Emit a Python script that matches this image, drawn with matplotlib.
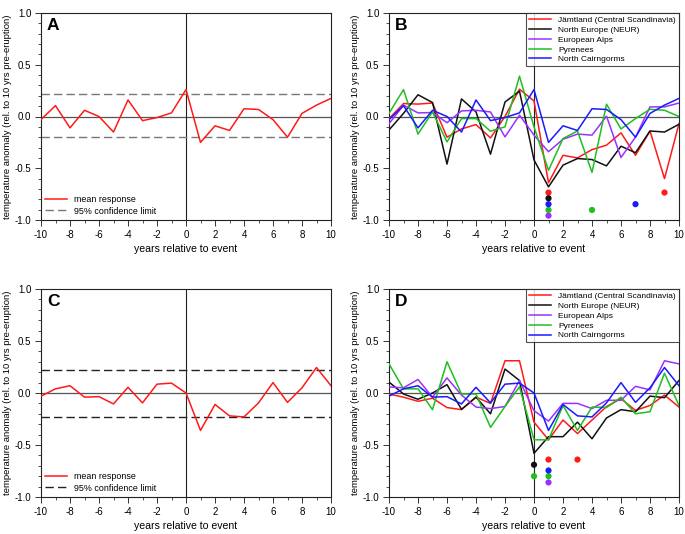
import matplotlib
matplotlib.use("Agg")
import matplotlib.pyplot as plt
from matplotlib.ticker import MultipleLocator

plt.rcParams['font.family'] = ['Liberation Sans', 'DejaVu Sans']

years = list(range(-10, 11))

# Panel A (mean response) == North Cairngorms in B
mean_A = [-0.03, 0.105, -0.11, 0.06, 0.0, -0.15, 0.16, -0.04, -0.01, 0.035, 0.26,
          -0.25, -0.09, -0.135, 0.075, 0.068, -0.03, -0.2, 0.03, 0.11, 0.175]
conf_A = [0.22, -0.20]

# Panel C (mean response) == North Cairngorms in D
mean_C = [-0.03, 0.04, 0.07, -0.04, -0.035, -0.105, 0.055, -0.095, 0.085, 0.095, 0.0,
          -0.36, -0.11, -0.22, -0.23, -0.095, 0.10, -0.09, 0.05, 0.245, 0.07]
conf_C = [0.225, -0.235]

region_names = ["Jämtland (Central Scandinavia)", "North Europe (NEUR)",
                "European Alps", "Pyrenees", "North Cairngorms"]
region_colors = ["#ff1a1a", "#111111", "#9b30ff", "#1fbf1f", "#1a1aff"]

# Panel B series
B_jamt = [-0.02, 0.125, 0.12, 0.13, -0.2, -0.12, -0.078, -0.207, 0.0, 0.264, 0.15,
          -0.64, -0.375, -0.40, -0.32, -0.277, -0.158, -0.375, -0.14, -0.60, -0.07]
B_neur = [-0.13, 0.03, 0.21, 0.135, -0.46, 0.17, 0.044, -0.364, 0.14, 0.245, -0.42,
          -0.68, -0.47, -0.406, -0.416, -0.477, -0.287, -0.35, -0.14, -0.15, -0.075]
B_alps = [-0.07, 0.109, 0.035, 0.038, -0.06, 0.054, 0.06, 0.044, -0.197, 0.013, -0.18,
          -0.34, -0.22, -0.17, -0.18, 0.003, -0.396, -0.2, 0.093, 0.093, 0.13]
B_pyr = [0.03, 0.26, -0.17, 0.044, -0.245, -0.02, -0.02, -0.142, -0.1, 0.39, -0.1,
         -0.52, -0.213, -0.14, -0.54, 0.119, -0.12, -0.02, 0.07, 0.06, 0.0]
B_cair = mean_A

# Panel B significance dots (year, value) per region
B_dot_x = [[1, 9], [1], [1], [1, 4], [1, 7]]
B_dot_y = [[-0.735, -0.735], [-0.79], [-0.958], [-0.903, -0.903], [-0.847, -0.847]]

# Panel D series
D_jamt = [-0.01, -0.04, -0.08, -0.05, -0.14, -0.16, -0.04, -0.1, 0.31, 0.31, -0.28,
          -0.45, -0.26, -0.39, -0.26, -0.13, -0.055, -0.167, -0.12, -0.02, -0.135]
D_neur = [0.105, -0.01, -0.06, 0.0, 0.08, -0.157, -0.04, -0.2, 0.23, 0.12, -0.58,
          -0.42, -0.42, -0.28, -0.44, -0.24, -0.16, -0.18, -0.03, -0.045, 0.12]
D_alps = [0.058, 0.05, 0.13, -0.04, 0.145, -0.02, -0.135, -0.15, -0.13, 0.12, -0.17,
          -0.27, -0.10, -0.10, -0.15, -0.07, -0.07, 0.064, 0.03, 0.31, 0.28]
D_pyr = [0.28, 0.04, 0.04, -0.16, 0.30, -0.01, -0.01, -0.33, -0.13, 0.06, -0.45,
         -0.45, -0.12, -0.36, -0.135, -0.14, -0.04, -0.2, -0.18, 0.19, -0.12]
D_cair = mean_C

D_dot_x = [[1, 3], [0], [1], [0, 1], [1]]
D_dot_y = [[-0.64, -0.64], [-0.69], [-0.86], [-0.80, -0.80], [-0.745]]

xticks = [-10, -8, -6, -4, -2, 0, 2, 4, 6, 8, 10]
yticks = [-1.0, -0.5, 0.0, 0.5, 1.0]
ytick_labels = ["-1.0", "-0.5", "0.0", "0.5", "1.0"]

fig = plt.figure(figsize=(6.85, 5.34), dpi=100)
W, H = 685.0, 534.0
def add_ax(l, r, t, b):
    return fig.add_axes([l / W, 1 - b / H, (r - l) / W, (b - t) / H])

axA = add_ax(41, 331, 13, 220)
axB = add_ax(389, 679, 13, 220)
axC = add_ax(41, 331, 289, 497)
axD = add_ax(389, 679, 289, 497)

def style(ax, letter):
    ax.set_xlim(-10, 10)
    ax.set_ylim(-1.0, 1.0)
    ax.set_xticks(xticks)
    ax.set_xticklabels([str(t) for t in xticks])
    ax.set_yticks(yticks)
    ax.set_yticklabels(ytick_labels)
    ax.xaxis.set_minor_locator(MultipleLocator(1))
    ax.yaxis.set_minor_locator(MultipleLocator(0.1))
    ax.tick_params(which='major', direction='out', length=4, width=0.7,
                   labelsize=7.0, color='#333333', pad=3)
    ax.tick_params(which='minor', direction='out', length=2.2, width=0.6,
                   color='#333333')
    for s in ax.spines.values():
        s.set_linewidth(0.8)
        s.set_color('#222222')
    ax.axhline(0, color='#555555', lw=0.9, zorder=1)
    ax.axvline(0, color='#222222', lw=0.8, zorder=1)
    ax.set_xlabel("years relative to event", fontsize=7.6, labelpad=3)
    ax.set_ylabel("temperature anomaly (rel. to 10 yrs pre-eruption)", fontsize=6.8,
                  labelpad=2)
    ax.text(0.02, 0.975, letter, transform=ax.transAxes, fontsize=12.5,
            fontweight='bold', va='top', ha='left')

def mean_panel(ax, letter, series, conf, dash_color):
    style(ax, letter)
    ax.plot(years, series, color='#ff1a1a', lw=1.1, label='mean response', zorder=3)
    ax.axhline(conf[0], color=dash_color, lw=1.0, ls=(0, (6, 3)), zorder=2,
               label='95% confidence limit')
    ax.axhline(conf[1], color=dash_color, lw=1.0, ls=(0, (6, 3)), zorder=2)
    ax.legend(loc='lower left', frameon=False, fontsize=6.4,
              handlelength=2.4, handletextpad=0.8, labelspacing=0.3,
              borderaxespad=0.1)

def region_panel(ax, letter, series_list, dot_x, dot_y):
    style(ax, letter)
    for name, col, ser in zip(region_names, region_colors, series_list):
        ax.plot(years, ser, color=col, lw=1.1, label=name, zorder=3)
    for col, dx, dy in zip(region_colors, dot_x, dot_y):
        ax.scatter(dx, dy, s=20, color=col, zorder=4, edgecolors='none')
    leg = ax.legend(loc='upper right', bbox_to_anchor=(1.0, 1.0), fontsize=6.0,
                    frameon=True, fancybox=False, borderaxespad=0.0,
                    handlelength=2.6, handletextpad=0.9, labelspacing=0.25,
                    borderpad=0.35)
    leg.get_frame().set_edgecolor('#222222')
    leg.get_frame().set_linewidth(0.8)

mean_panel(axA, "A", mean_A, conf_A, '#777777')
mean_panel(axC, "C", mean_C, conf_C, '#222222')
region_panel(axB, "B", [B_jamt, B_neur, B_alps, B_pyr, B_cair], B_dot_x, B_dot_y)
region_panel(axD, "D", [D_jamt, D_neur, D_alps, D_pyr, D_cair], D_dot_x, D_dot_y)

fig.savefig("out.png", dpi=100)
